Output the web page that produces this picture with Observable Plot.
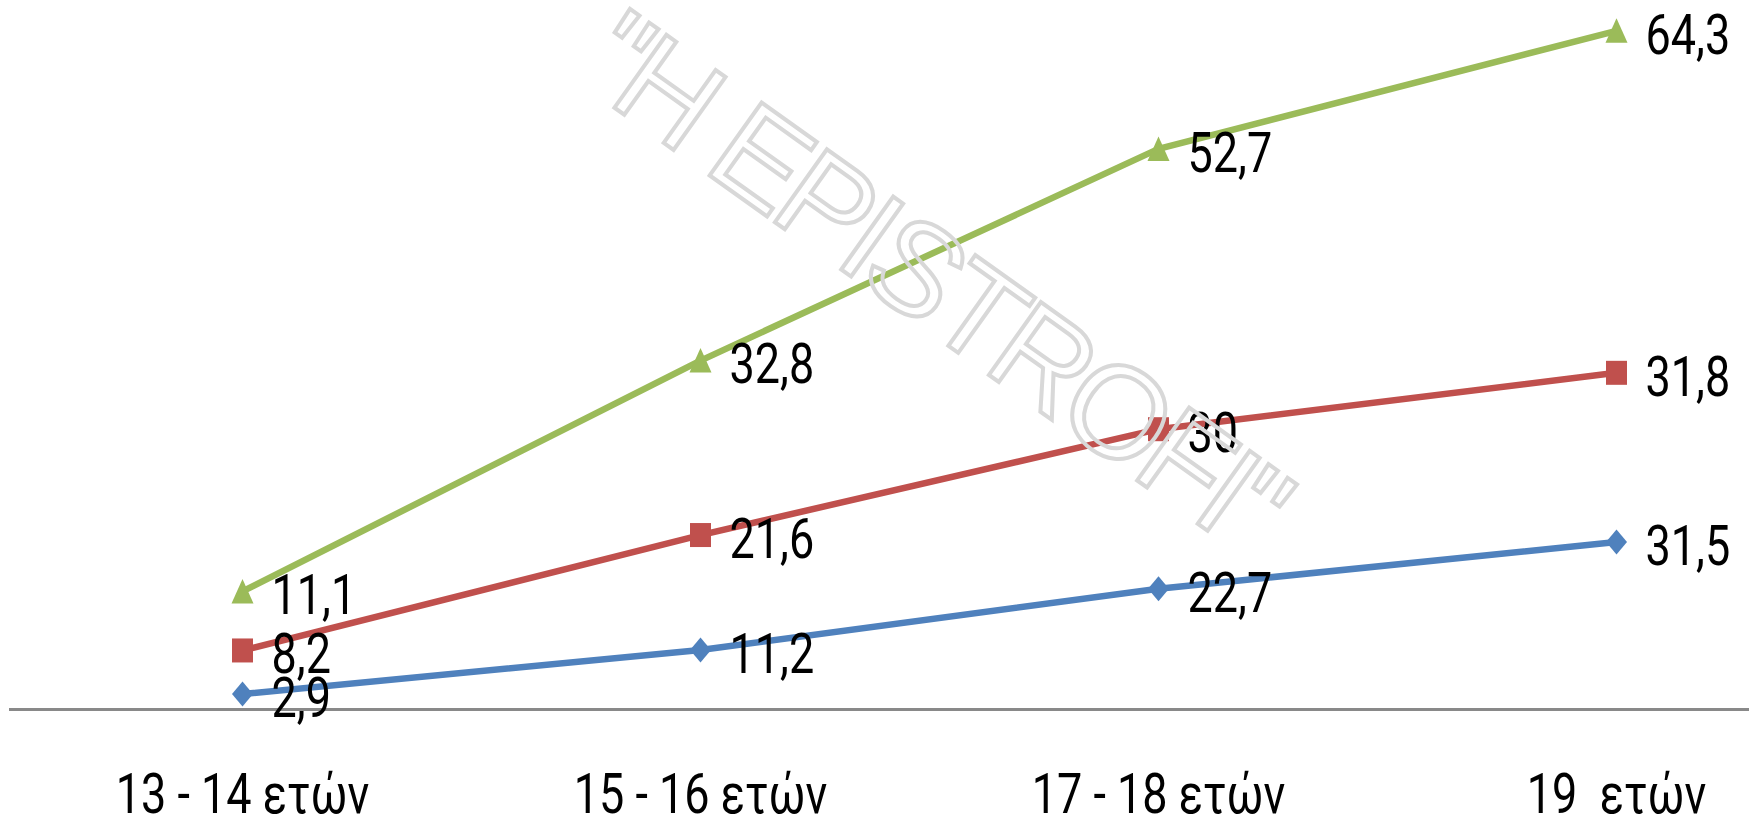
<!DOCTYPE html>
<html>
<head>
<meta charset="utf-8">
<script src="https://cdn.jsdelivr.net/npm/d3@7"></script>
<script src="https://cdn.jsdelivr.net/npm/@observablehq/plot@0.6"></script>
<style>
  html, body { margin: 0; padding: 0; background: #fff; }
  #chart svg text { white-space: pre; }
</style>
</head>
<body>
<div id="chart"></div>
<script>
// ---- data ----
const categories = ["13 - 14 ετών", "15 - 16 ετών", "17 - 18 ετών", "19  ετών"];
const seriesNames = ["Σειρά 1", "Σειρά 2", "Σειρά 3"];
const series1 = [2.9, 11.2, 22.7, 31.5];
const series2 = [8.2, 21.6, 30, 31.8];
const series3 = [11.1, 32.8, 52.7, 64.3];
const watermark = "\"H EPISTROFI\"";

const seriesValues = [series1, series2, series3];
const rows = [];
seriesNames.forEach((s, i) => {
  categories.forEach((c, j) => rows.push({series: s, category: c, value: seriesValues[i][j]}));
});

const colors = ["#4F81BD", "#C0504D", "#9BBB59"];
// marker shapes (slightly taller than wide, as in the reference)
const diamondSym = {draw(ctx) { ctx.moveTo(0, -12.5); ctx.lineTo(10.5, 0); ctx.lineTo(0, 12.5); ctx.lineTo(-10.5, 0); ctx.closePath(); }};
const squareSym = {draw(ctx) { ctx.moveTo(-10.5, -12); ctx.lineTo(10.5, -12); ctx.lineTo(10.5, 12); ctx.lineTo(-10.5, 12); ctx.closePath(); }};
const triangleSym = {draw(ctx) { ctx.moveTo(0, -12.5); ctx.lineTo(11, 12); ctx.lineTo(-11, 12); ctx.closePath(); }};
const symbols = [diamondSym, squareSym, triangleSym];
const fmt = v => String(v).replace(".", ",");
const FONT = "Roboto, 'DejaVu Sans', sans-serif";

const stackOpts = {x: "category", y: "value", z: "series"};

const chart = Plot.plot({
  width: 1749,
  height: 821,
  marginTop: 0,
  marginBottom: 112,
  marginLeft: 9,
  marginRight: 0,
  style: {fontFamily: FONT, background: "#fff"},
  x: {type: "point", domain: categories, range: [241, 1616], padding: 0, label: null},
  y: {domain: [0, 133.3], axis: null},
  color: {domain: seriesNames, range: colors},
  symbol: {domain: seriesNames, range: symbols},
  marks: [
    Plot.ruleY([0], {stroke: "#898989", strokeWidth: 3}),
    Plot.lineY(rows, Plot.stackY2({...stackOpts, stroke: "series", strokeWidth: 6.5})),
    Plot.dot(rows, Plot.stackY2({...stackOpts, fill: "series", symbol: "series", r: 10, stroke: "none"})),
    Plot.text(rows, Plot.stackY2({...stackOpts, text: d => fmt(d.value), dx: 29, dy: 5,
      textAnchor: "start", fontSize: 45, fill: "#000"})),
    Plot.axisX({tickSize: 0, tickPadding: 64, fontSize: 45, color: "#000", label: null})
  ]
});

// the reference's text is drawn taller than wide: stretch each text vertically
d3.select(chart).selectAll("text").each(function() {
  const t = this.getAttribute("transform") || "";
  this.setAttribute("transform", (t + " scale(1,1.24)").trim());
});

// watermark overlay (outlined, rotated)
d3.select(chart).append("text")
  .attr("transform", "translate(935,281) rotate(35.5)")
  .attr("text-anchor", "middle")
  .attr("dominant-baseline", "central")
  .attr("font-family", "'Liberation Sans', Arial, sans-serif")
  .attr("font-size", 130)
  .attr("letter-spacing", -6.5)
  .attr("fill", "none")
  .attr("stroke", "#d8d8d8")
  .attr("stroke-width", 4)
  .text(watermark);

document.getElementById("chart").appendChild(chart);
</script>
</body>
</html>
